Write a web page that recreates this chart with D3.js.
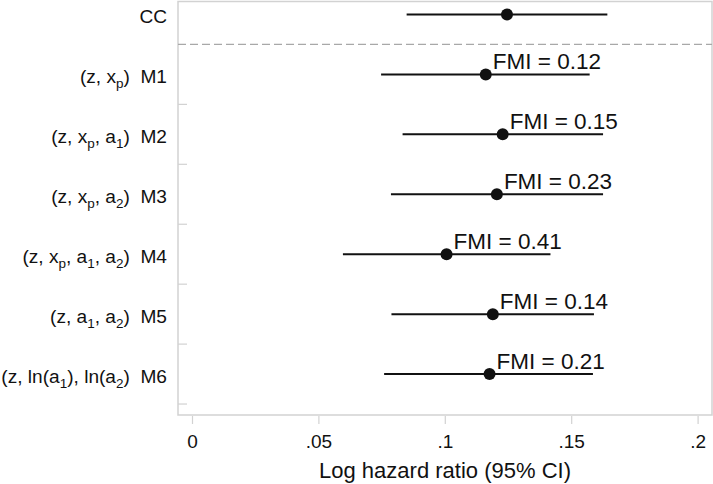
<!DOCTYPE html>
<html>
<head>
<meta charset="utf-8">
<script src="https://cdn.jsdelivr.net/npm/d3@7"></script>
<style>
  html, body { margin: 0; padding: 0; background: #fff; }
  svg { display: block; font-family: "Liberation Sans", Arial, Helvetica, sans-serif; }
  text { white-space: pre; }
</style>
</head>
<body>
<svg id="chart" width="713" height="484"></svg>
<script>
// ---- data ----
const models = ["CC", "M1", "M2", "M3", "M4", "M5", "M6"];
const covariates = ["", "(z, x_p)", "(z, x_p, a_1)", "(z, x_p, a_2)", "(z, x_p, a_1, a_2)", "(z, a_1, a_2)", "(z, ln(a_1), ln(a_2)"];
const estimates = [0.1246, 0.1162, 0.1229, 0.1206, 0.1007, 0.1190, 0.1177];
const lowerCI   = [0.0849, 0.0748, 0.0833, 0.0787, 0.0597, 0.0789, 0.0760];
const upperCI   = [0.1643, 0.1573, 0.1626, 0.1626, 0.1418, 0.1590, 0.1586];
const fmi       = [null, "0.12", "0.15", "0.23", "0.41", "0.14", "0.21"];
const xTicks = [0, 0.05, 0.1, 0.15, 0.2];
const xTickLabels = ["0", ".05", ".1", ".15", ".2"];
const xTitle = "Log hazard ratio (95% CI)";

// ---- layout ----
const svg = d3.select("#chart");
const frame = { left: 178, right: 712, top: 1.5, bottom: 415 };

const x = d3.scaleLinear().domain([0, 0.2]).range([192, 697.6]);
const y = d3.scaleLinear().domain([-0.2167, 6.683]).range([frame.top, frame.bottom]);

// frame
svg.append("rect")
  .attr("x", frame.left).attr("y", frame.top)
  .attr("width", frame.right - frame.left).attr("height", frame.bottom - frame.top)
  .attr("fill", "none").attr("stroke", "#d2d2d2").attr("stroke-width", 1.5);

// y ticks (between rows, pointing inward)
const yTickIdx = d3.range(0, models.length).map(i => i + 0.5);
svg.append("g").selectAll("line").data(yTickIdx.slice(1)).join("line")
  .attr("x1", frame.left).attr("x2", frame.left + 9)
  .attr("y1", d => y(d)).attr("y2", d => y(d))
  .attr("stroke", "#d2d2d2").attr("stroke-width", 1.2);

// dashed separator after CC
svg.append("line")
  .attr("x1", frame.left).attr("x2", frame.right)
  .attr("y1", y(0.5)).attr("y2", y(0.5))
  .attr("stroke", "#a8a8a8").attr("stroke-width", 1.2)
  .attr("stroke-dasharray", "8,4");

// x axis
const xAxis = d3.axisBottom(x).tickValues(xTicks)
  .tickFormat((d, i) => xTickLabels[i]).tickSize(8).tickPadding(11);
const gx = svg.append("g").attr("transform", `translate(0,${frame.bottom + 1})`).call(xAxis);
gx.select(".domain").remove();
gx.selectAll(".tick line").attr("stroke", "#d2d2d2").attr("stroke-width", 1.2);
gx.selectAll(".tick text").attr("font-size", 19).attr("fill", "#111")
  .attr("font-family", "Liberation Sans, Arial, sans-serif");

svg.append("text")
  .attr("x", (frame.left + frame.right) / 2).attr("y", 478)
  .attr("text-anchor", "middle").attr("font-size", 22).attr("fill", "#111")
  .text(xTitle);

// y labels with subscripts
function addLabel(i) {
  const t = svg.append("text")
    .attr("x", 167).attr("y", y(i) + 8.5)
    .attr("text-anchor", "end").attr("font-size", 19.1).attr("fill", "#111");
  const s = covariates[i];
  const parts = s.split(/_(.)/);
  let shifted = false;
  parts.forEach((p, k) => {
    if (p === "") return;
    if (k % 2 === 1) {
      t.append("tspan").attr("font-size", 13.5).attr("dy", 5).text(p);
      shifted = true;
    } else {
      const ts = t.append("tspan").text(p);
      if (shifted) { ts.attr("dy", -5); shifted = false; }
    }
  });
  const last = t.append("tspan").text((s ? "  " : "") + models[i]);
  if (shifted) last.attr("dy", -5);
}
models.forEach((m, i) => addLabel(i));

// CI lines
const rows = models.map((m, i) => ({ i, est: estimates[i], lo: lowerCI[i], hi: upperCI[i], fmi: fmi[i] }));
svg.append("g").selectAll("line").data(rows).join("line")
  .attr("x1", d => x(d.lo)).attr("x2", d => x(d.hi))
  .attr("y1", d => y(d.i)).attr("y2", d => y(d.i))
  .attr("stroke", "#111").attr("stroke-width", 2);

// points
svg.append("g").selectAll("circle").data(rows).join("circle")
  .attr("cx", d => x(d.est)).attr("cy", d => y(d.i)).attr("r", 6)
  .attr("fill", "#111");

// FMI labels
svg.append("g").selectAll("text").data(rows.filter(d => d.fmi)).join("text")
  .attr("x", d => x(d.est) + 7).attr("y", d => y(d.i) - 5)
  .attr("font-size", 22.5).attr("fill", "#111")
  .text(d => "FMI = " + d.fmi);
</script>
</body>
</html>
